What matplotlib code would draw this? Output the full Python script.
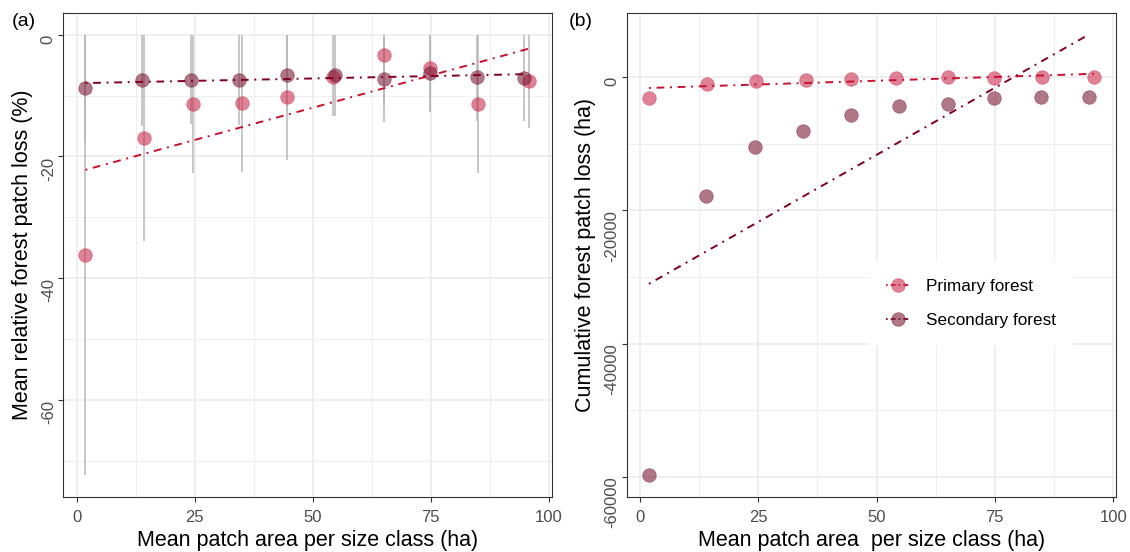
import numpy as np
import matplotlib
matplotlib.use('Agg')
import matplotlib.pyplot as plt
from matplotlib.lines import Line2D
from matplotlib.ticker import MultipleLocator, FormatStrFormatter

plt.rcParams['font.family'] = ['Liberation Sans', 'DejaVu Sans']
plt.rcParams['axes.unicode_minus'] = False
plt.rcParams['lines.scale_dashes'] = False

####### data #######

# mean patch area per size class (ha)
area_primary = [1.9, 14.2, 24.6, 35.0, 44.6, 54.2, 65.0, 74.8, 85.0, 95.9]
area_secondary = [1.9, 13.9, 24.3, 34.5, 44.6, 54.7, 65.0, 74.8, 84.7, 94.8]

# (a) mean relative loss (%) and the lower end of each bar (upper end cut at 0)
rel_primary = [-36.2, -17.0, -11.4, -11.3, -10.3, -6.9, -3.4, -5.5, -11.4, -7.6]
rel_primary_low = [-72.4, -33.9, -22.8, -22.5, -20.6, -13.4, -14.4, -12.7, -22.8, -15.4]
rel_secondary = [-8.8, -7.5, -7.4, -7.5, -6.7, -6.6, -7.2, -6.3, -6.9, -7.1]
rel_secondary_low = [-17.6, -15.0, -14.6, -14.9, -12.5, -13.3, -12.0, -12.7, -14.1, -14.1]

# (b) cumulative loss (ha)
cum_primary = [-3090, -1000, -550, -350, -200, -100, 0, -50, -45, -45]
cum_secondary = [-59790, -17900, -10470, -8030, -5730, -4390, -3990, -3140, -3030, -2940]

series_names = ['Primary forest', 'Secondary forest']

####### styles #######

pt_colors = ['#cc2f50', '#7c1c38']
pt_alpha = 0.6
line_colors = ['#c8102e', '#800020']
dotdash = (0, (1.4, 4.1, 5.6, 4.1))
grid_col = '#ebebeb'
frame_col = '#333333'
tick_col = '#4d4d4d'


def fit_line(x, y):
    coef = np.polyfit(x, y, 1)
    xs = np.array([min(x), max(x)])
    return xs, np.polyval(coef, xs)


def expand(lo, hi, f=0.05):
    r = hi - lo
    return lo - f * r, hi + f * r


def style_axes(ax, ymajor, yminor):
    ax.xaxis.set_major_locator(MultipleLocator(25))
    ax.xaxis.set_minor_locator(MultipleLocator(12.5))
    ax.yaxis.set_major_locator(MultipleLocator(ymajor))
    ax.yaxis.set_minor_locator(MultipleLocator(yminor))
    ax.xaxis.set_major_formatter(FormatStrFormatter('%d'))
    ax.yaxis.set_major_formatter(FormatStrFormatter('%d'))
    ax.grid(which='major', color=grid_col, lw=1.1)
    ax.grid(which='minor', color=grid_col, lw=0.55)
    ax.set_axisbelow(True)
    ax.tick_params(which='minor', length=0)
    ax.tick_params(which='major', length=3.7, width=0.8, color=frame_col,
                   labelsize=12, labelcolor=tick_col)
    ax.tick_params(axis='x', pad=5.4)
    ax.tick_params(axis='y', pad=1.7, labelrotation=90)
    for s in ax.spines.values():
        s.set_color(frame_col)
        s.set_linewidth(0.8)


def draw_series(ax, xs_list, ys_list):
    for x, y, pc in zip(xs_list, ys_list, pt_colors):
        ax.scatter(x, y, s=95, color=pc, alpha=pt_alpha, edgecolors=pc,
                   linewidths=0.5, zorder=3)
    for x, y, lc in zip(xs_list, ys_list, line_colors):
        fx, fy = fit_line(x, y)
        ax.plot(fx, fy, color=lc, lw=1.4, linestyle=dotdash, zorder=4)


fig = plt.figure(figsize=(11.3, 5.52), dpi=100)
ax_a = fig.add_axes([0.0560, 0.0991, 0.4322, 0.8779])
ax_b = fig.add_axes([0.5546, 0.0991, 0.4330, 0.8779])

####### (a) #######

ax_a.vlines(area_primary, rel_primary_low, 0, color='#b8b8b8', lw=1.3,
            alpha=0.85, zorder=1)
ax_a.vlines(area_secondary, rel_secondary_low, 0, color='#b8b8b8', lw=1.3,
            alpha=0.85, zorder=1)
draw_series(ax_a, [area_primary, area_secondary], [rel_primary, rel_secondary])

all_x = area_primary + area_secondary
ax_a.set_xlim(*expand(min(all_x), max(all_x)))
ax_a.set_ylim(*expand(min(rel_primary_low + rel_secondary_low), 0))
style_axes(ax_a, 20, 10)
ax_a.set_xlabel('Mean patch area per size class (ha)', fontsize=15.5)
ax_a.set_ylabel('Mean relative forest patch loss (%)', fontsize=15.5)

####### (b) #######

draw_series(ax_b, [area_primary, area_secondary], [cum_primary, cum_secondary])
ends = [fit_line(area_primary, cum_primary)[1], fit_line(area_secondary, cum_secondary)[1]]
ylo = min(min(cum_primary), min(cum_secondary), *[e.min() for e in ends])
yhi = max(max(cum_primary), max(cum_secondary), *[e.max() for e in ends])
ax_b.set_xlim(*expand(min(all_x), max(all_x)))
ax_b.set_ylim(*expand(ylo, yhi))
style_axes(ax_b, 20000, 10000)
ax_b.set_xlabel('Mean patch area  per size class (ha)', fontsize=15.5)
ax_b.set_ylabel('Cumulative forest patch loss (ha)', fontsize=15.5)

handles = [
    Line2D([], [], color=lc, lw=1.3, linestyle=(0, (1.2, 2.2, 3.5, 2.2)),
           marker='o', markersize=9.7,
           markerfacecolor=matplotlib.colors.to_rgba(pc, pt_alpha),
           markeredgecolor=matplotlib.colors.to_rgba(pc, 0.7),
           markeredgewidth=0.5)
    for pc, lc in zip(pt_colors, line_colors)
]
leg = ax_b.legend(handles, series_names, loc='upper left',
                  bbox_to_anchor=(0.495, 0.4855), borderaxespad=0,
                  fontsize=12.3, frameon=True, fancybox=False,
                  handlelength=1.35, handletextpad=1.0, labelspacing=1.1,
                  borderpad=1.0)
leg.get_frame().set_facecolor('white')
leg.get_frame().set_edgecolor('none')
leg.get_frame().set_alpha(1)

####### label placement #######

for ax in (ax_a, ax_b):
    for lbl in ax.get_yticklabels():
        lbl.set_verticalalignment('top')
        lbl.set_horizontalalignment('right')
    ax.xaxis.label.set_verticalalignment('center')
    ax.yaxis.label.set_verticalalignment('center')

ax_a.xaxis.set_label_coords(0.5, -0.090)
ax_b.xaxis.set_label_coords(0.5, -0.090)
ax_a.yaxis.set_label_coords(-0.0825, 0.5)
ax_b.yaxis.set_label_coords(-0.0832, 0.5)

fig.text(11.7 / 1130, 1 - 21.7 / 552, '(a)', fontsize=14, ha='left', va='center')
fig.text(569 / 1130, 1 - 21.7 / 552, '(b)', fontsize=14, ha='left', va='center')

fig.savefig('out.png', dpi=100, facecolor='white')
